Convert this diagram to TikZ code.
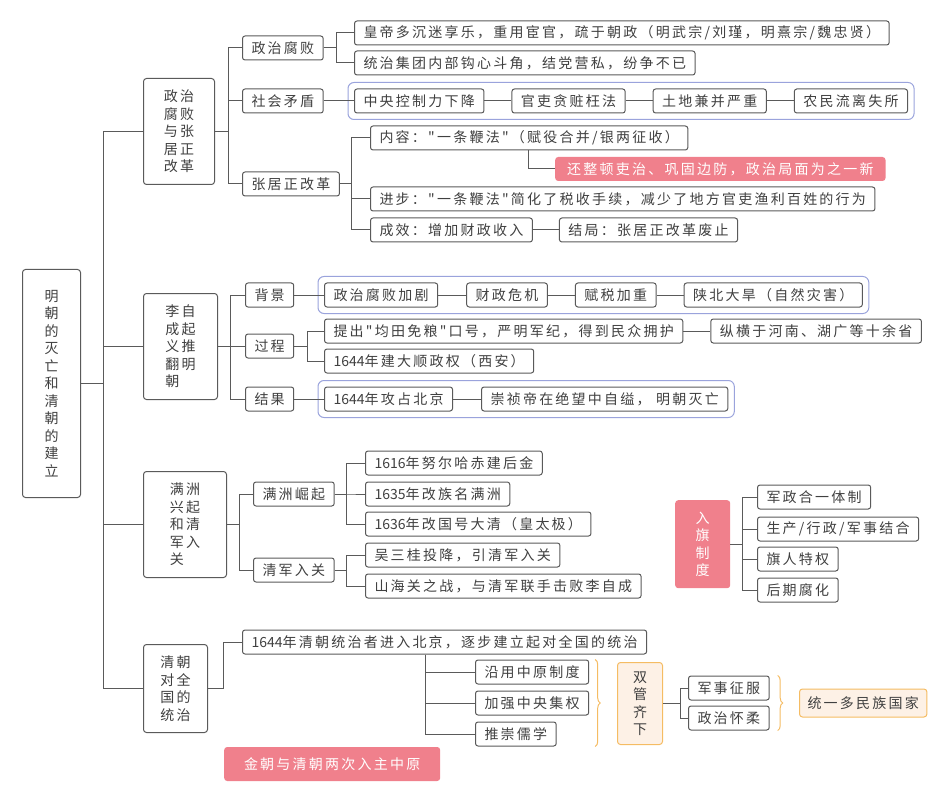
\documentclass[tikz,border=0pt]{standalone}
\usepackage{fontspec}
\setmainfont{Noto Sans CJK SC}[LetterSpace=16, Ligatures=TeXOff]
\newfontfamily\numfont{Noto Sans CJK SC}
\newcommand\yr[1]{{\numfont #1}}
\usetikzlibrary{positioning,fit,decorations.pathreplacing}
\definecolor{linegray}{HTML}{5A5A5A}
\definecolor{textgray}{HTML}{404040}
\definecolor{grpblue}{HTML}{9AA3DC}
\definecolor{redfill}{HTML}{F0808C}
\definecolor{orline}{HTML}{F5BC63}
\definecolor{orfill}{HTML}{FDF1E6}
\begin{document}
\begin{tikzpicture}[x=1pt,y=-1pt,
	font=\fontsize{14}{17.5}\selectfont,
	line/.style={draw=linegray, line width=1pt},
	box/.style={draw=linegray, line width=1pt, rounded corners=2.5pt, fill=white, text=textgray,
		minimum height=24pt, inner xsep=9pt, inner ysep=0pt, anchor=west},
	tallbox/.style={draw=linegray, line width=1pt, rounded corners=3pt, fill=white, text=textgray,
		align=left, anchor=north west, inner sep=0pt},
	redbox/.style={fill=redfill, rounded corners=3pt, text=white, inner xsep=12pt, inner ysep=0pt},
	orbox/.style={draw=orline, line width=1pt, fill=orfill, rounded corners=3pt, text=textgray, inner sep=0pt},
	grp/.style={draw=grpblue, line width=1pt, rounded corners=6pt, inner sep=6pt},
	brace/.style={draw=orline, line width=1pt, decorate, decoration={brace, amplitude=5pt}}]
	\useasboundingbox (0,0) rectangle (950,802);
	\node[tallbox, align=center, minimum width=58pt, minimum height=228pt] (root) at (22,269) {明\\朝\\的\\灭\\亡\\和\\清\\朝\\的\\建\\立};
	\node[tallbox, minimum width=71pt, minimum height=106pt] (g1) at (143,78) {政治\\腐败\\与张\\居正\\改革};
	\node[tallbox, minimum width=74pt, minimum height=106pt] (g2) at (143,293) {李自\\成起\\义推\\翻明\\朝};
	\node[tallbox, minimum width=83pt, minimum height=106pt] (g3) at (143,471) {满洲\\兴起\\和清\\军入\\关};
	\node[tallbox, minimum width=64pt, minimum height=88pt] (g4) at (143,644) {清朝\\对全\\国的\\统治};
	\foreach \g in {g1,g2,g3,g4}
		\draw[line] (root.east) -- ++(22,0) |- (\g.west);

	\node[box] (zz) at (242,48) {政治腐败};
	\node[box] (sh) at (242,101) {社会矛盾};
	\node[box] (zj) at (242,184) {张居正改革};
	\foreach \n in {zz,sh,zj}
		\draw[line] (g1.east) -- ++(13,0) |- (\n.west);
	\node[box] (zz1) at (354,33) {皇帝多沉迷享乐，重用宦官，疏于朝政（明武宗/刘瑾，明熹宗/魏忠贤）};
	\node[box] (zz2) at (354,63) {统治集团内部钩心斗角，结党营私，纷争不已};
	\foreach \n in {zz1,zz2}
		\draw[line] (zz.east) -- ++(13,0) |- (\n.west);
	\node[box] (sh1) at (354,101) {中央控制力下降};
	\node[box, right=27pt of sh1] (sh2) {官吏贪赃枉法};
	\node[box, right=27pt of sh2] (sh3) {土地兼并严重};
	\node[box, right=27pt of sh3] (sh4) {农民流离失所};
	\node[grp, fit=(sh1)(sh4)] (shgrp) {};
	\draw[line] (sh.east) -- (sh1.west) (sh1.east) -- (sh2.west) (sh2.east) -- (sh3.west) (sh3.east) -- (sh4.west);
	\node[box] (zj1) at (370,138) {内容："一条鞭法"（赋役合并/银两征收）};
	\node[redbox, minimum height=24pt, anchor=west] (zj1a) at (555,169) {还整顿吏治、巩固边防，政治局面为之一新};
	\draw[line] (zj1a.west) -| ([xshift=158pt]zj1.south west);
	\node[box] (zj2) at (370,199) {进步："一条鞭法"简化了税收手续，减少了地方官吏渔利百姓的行为};
	\node[box] (zj3) at (370,230) {成效：增加财政收入};
	\node[box, right=26pt of zj3] (zj3a) {结局：张居正改革废止};
	\draw[line] (zj3.east) -- (zj3a.west);
	\foreach \n in {zj1,zj2,zj3}
		\draw[line] (zj.east) -- ++(12,0) |- (\n.west);

	\node[box] (bj) at (245,295) {背景};
	\node[box] (gc) at (245,346) {过程};
	\node[box] (jg) at (245,399) {结果};
	\foreach \n in {bj,gc,jg}
		\draw[line] (g2.east) -- ++(12,0) |- (\n.west);
	\node[box] (bj1) at (324,295) {政治腐败加剧};
	\node[box, right=28pt of bj1] (bj2) {财政危机};
	\node[box, right=27pt of bj2] (bj3) {赋税加重};
	\node[box, right=27pt of bj3] (bj4) {陕北大旱（自然灾害）};
	\node[grp, fit=(bj1)(bj4)] (bjgrp) {};
	\draw[line] (bj.east) -- (bj1.west) (bj1.east) -- (bj2.west) (bj2.east) -- (bj3.west) (bj3.east) -- (bj4.west);
	\node[box] (gc1) at (324,331) {提出"均田免粮"口号，严明军纪，得到民众拥护};
	\node[box, right=27pt of gc1] (gc1a) {纵横于河南、湖广等十余省};
	\node[box] (gc2) at (324,361) {\yr{1644}年建大顺政权（西安）};
	\draw[line] (gc1.east) -- (gc1a.west);
	\foreach \n in {gc1,gc2}
		\draw[line] (gc.east) -- ++(13,0) |- (\n.west);
	\node[box] (jg1) at (324,399) {\yr{1644}年攻占北京};
	\node[box, right=28pt of jg1] (jg2) {崇祯帝在绝望中自缢， 明朝灭亡};
	\node[grp, fit=(jg1)(jg2)] (jggrp) {};
	\draw[line] (jg.east) -- (jg1.west) (jg1.east) -- (jg2.west);

	\node[box] (mz) at (253,494) {满洲崛起};
	\node[box] (qj) at (253,570) {清军入关};
	\foreach \n in {mz,qj}
		\draw[line] (g3.east) -- ++(12,0) |- (\n.west);
	\node[box] (mz1) at (365,463) {\yr{1616}年努尔哈赤建后金};
	\node[box] (mz2) at (365,494) {\yr{1635}年改族名满洲};
	\node[box] (mz3) at (365,524) {\yr{1636}年改国号大清（皇太极）};
	\foreach \n in {mz1,mz2,mz3}
		\draw[line] (mz.east) -- ++(12,0) |- (\n.west);
	\node[box] (qj1) at (365,555) {吴三桂投降，引清军入关};
	\node[box] (qj2) at (365,586) {山海关之战，与清军联手击败李自成};
	\foreach \n in {qj1,qj2}
		\draw[line] (qj.east) -- ++(12,0) |- (\n.west);

	\node[redbox, align=center, anchor=north west, inner sep=0pt, minimum width=55pt, minimum height=88pt] (bq) at (675,500) {入\\旗\\制\\度};
	\node[box] (bq1) at (757,497) {军政合一体制};
	\node[box] (bq2) at (757,529) {生产/行政/军事结合};
	\node[box] (bq3) at (757,559) {旗人特权};
	\node[box] (bq4) at (757,590) {后期腐化};
	\foreach \n in {bq1,bq2,bq3,bq4}
		\draw[line] (bq.east) -- ++(12,0) |- (\n.west);

	\node[box] (qc) at (242,642) {\yr{1644}年清朝统治者进入北京，逐步建立起对全国的统治};
	\draw[line] (g4.east) -- ++(15,0) |- (qc.west);
	\node[box] (qc1) at (475,672) {沿用中原制度};
	\node[box] (qc2) at (475,703) {加强中央集权};
	\node[box] (qc3) at (475,734) {推崇儒学};
	\foreach \n in {qc1,qc2,qc3}
		\draw[line] ([xshift=183pt]qc.south west) |- (\n.west);
	\draw[brace] ([xshift=6pt]qc1.north east) -- ([xshift=6pt]qc1.east |- qc3.south);
	\node[orbox, align=center, anchor=north west, minimum width=45pt, minimum height=82pt] (sg) at (617,662) {双\\管\\齐\\下};
	\node[box] (js) at (688,688) {军事征服};
	\node[box] (zr) at (688,718) {政治怀柔};
	\foreach \n in {js,zr}
		\draw[line] (sg.east) -- ++(17,0) |- (\n.west);
	\draw[brace] ([xshift=8pt]js.north east) -- ([xshift=8pt]zr.south east);
	\node[orbox, anchor=west, minimum height=28pt, inner xsep=8pt] (ty) at (799,703) {统一多民族国家};

	\node[redbox, anchor=west, minimum width=216pt, minimum height=34pt] (jc) at (224,764) {金朝与清朝两次入主中原};
\end{tikzpicture}
\end{document}
